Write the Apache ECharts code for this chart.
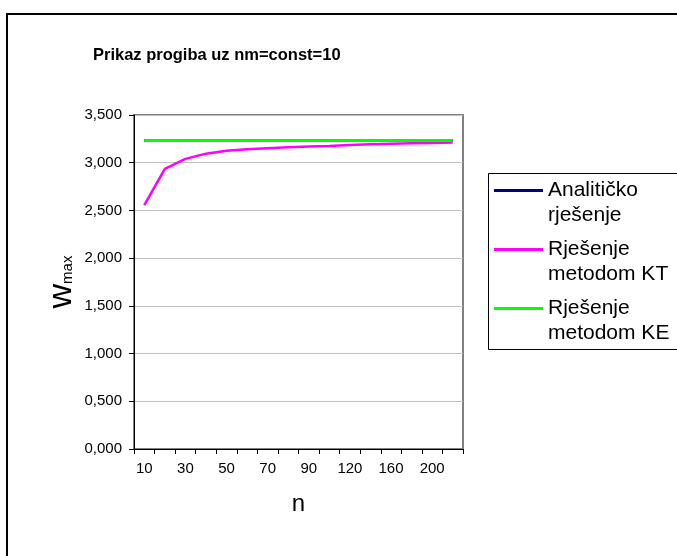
<!DOCTYPE html>
<html>
<head>
<meta charset="utf-8">
<script src="https://cdn.jsdelivr.net/npm/echarts@6/dist/echarts.min.js"></script>
<style>
  html, body { margin: 0; padding: 0; background: #fff; }
  #chart { width: 677px; height: 556px; }
</style>
</head>
<body>
<div id="chart"></div>
<script>
// Number of subdivisions n
const categories = ['10','20','30','40','50','60','70','80','90','100','120','140','160','180','200','220'];

// Maximum deflection w_max for each n
const analitickoRjesenje = [3.232,3.232,3.232,3.232,3.232,3.232,3.232,3.232,3.232,3.232,3.232,3.232,3.232,3.232,3.232,3.232];
const metodomKT = [2.555,2.935,3.040,3.095,3.125,3.140,3.152,3.162,3.170,3.176,3.186,3.193,3.198,3.203,3.207,3.211];
const metodomKE = [3.232,3.232,3.232,3.232,3.232,3.232,3.232,3.232,3.232,3.232,3.232,3.232,3.232,3.232,3.232,3.232];

const seriesNames = ['Analitičko\nrješenje', 'Rješenje\nmetodom KT', 'Rješenje\nmetodom KE'];
const FONT = 'Arial, "Liberation Sans", sans-serif';

const chart = echarts.init(document.getElementById('chart'), null, { renderer: 'canvas' });

chart.setOption({
  animation: false,
  backgroundColor: '#ffffff',
  textStyle: { fontFamily: FONT },
  title: {
    text: 'Prikaz progiba uz nm=const=10',
    left: 93,
    top: 47,
    padding: 0,
    textStyle: { fontFamily: FONT, fontSize: 16.5, fontWeight: 'bold', color: '#000' }
  },
  grid: {
    left: 134, right: 214, top: 115, bottom: 107,
    show: true,
    borderColor: '#808080',
    borderWidth: 2,
    backgroundColor: 'transparent'
  },
  legend: {
    orient: 'vertical',
    left: 494,
    top: 180,
    padding: 0,
    itemGap: 13,
    itemWidth: 49,
    itemHeight: 14,
    selectedMode: false,
    data: seriesNames.map(function (n) { return { name: n, icon: 'path://M0,0H49V3H0Z' }; }),
    formatter: function (name) {
      return name.split('\n').map(function (s) { return '{a|' + s + '}'; }).join('\n');
    },
    textStyle: {
      padding: [25, 0, 0, 0],
      rich: { a: { fontFamily: FONT, fontSize: 21, lineHeight: 25, color: '#000' } }
    }
  },
  xAxis: {
    type: 'category',
    data: categories,
    boundaryGap: true,
    name: 'n',
    nameLocation: 'middle',
    nameGap: 43,
    nameTextStyle: { fontFamily: FONT, fontSize: 24, color: '#000' },
    axisLine: { show: true, lineStyle: { color: '#000', width: 1 } },
    axisTick: { show: true, interval: 0, length: 5, lineStyle: { color: '#000' } },
    axisLabel: { interval: 1, margin: 12, fontFamily: FONT, fontSize: 15, color: '#000' },
    splitLine: { show: false }
  },
  yAxis: {
    type: 'value',
    min: 0,
    max: 3.5,
    interval: 0.5,
    name: '{w|w}{s|max}',
    nameLocation: 'middle',
    nameGap: 55,
    nameTextStyle: {
      color: '#000',
      rich: {
        w: { fontFamily: FONT, fontSize: 34, color: '#000' },
        s: { fontFamily: FONT, fontSize: 15, color: '#000', verticalAlign: 'bottom', padding: [0, 0, 4, 0] }
      }
    },
    axisLine: { show: true, lineStyle: { color: '#000', width: 1 } },
    axisTick: { show: true, length: 5, lineStyle: { color: '#000' } },
    axisLabel: {
      margin: 12, fontFamily: FONT, fontSize: 15, color: '#000',
      formatter: function (v) { return v.toFixed(3).replace('.', ','); }
    },
    splitLine: { show: true, lineStyle: { color: '#c0c0c0', width: 1 } }
  },
  series: [
    {
      name: seriesNames[0], type: 'line', data: analitickoRjesenje,
      symbol: 'none', color: '#000080', lineStyle: { color: '#000080', width: 3 }, z: 2
    },
    {
      name: seriesNames[1], type: 'line', data: metodomKT,
      symbol: 'none', color: '#ff00ff', lineStyle: { color: '#ff00ff', width: 2.5 }, z: 3
    },
    {
      name: seriesNames[2], type: 'line', data: metodomKE,
      symbol: 'none', color: '#00ff00', lineStyle: { color: '#00ff00', width: 3 }, z: 4
    }
  ],
  graphic: [
    // outer chart frame
    { type: 'rect', shape: { x: 7, y: 14, width: 700, height: 600 },
      style: { fill: 'none', stroke: '#000', lineWidth: 2 }, silent: true, z: 0 },
    // legend frame
    { type: 'rect', shape: { x: 488.5, y: 173.5, width: 220, height: 176 },
      style: { fill: 'none', stroke: '#000', lineWidth: 1 }, silent: true, z: 0 }
  ]
});
</script>
</body>
</html>
